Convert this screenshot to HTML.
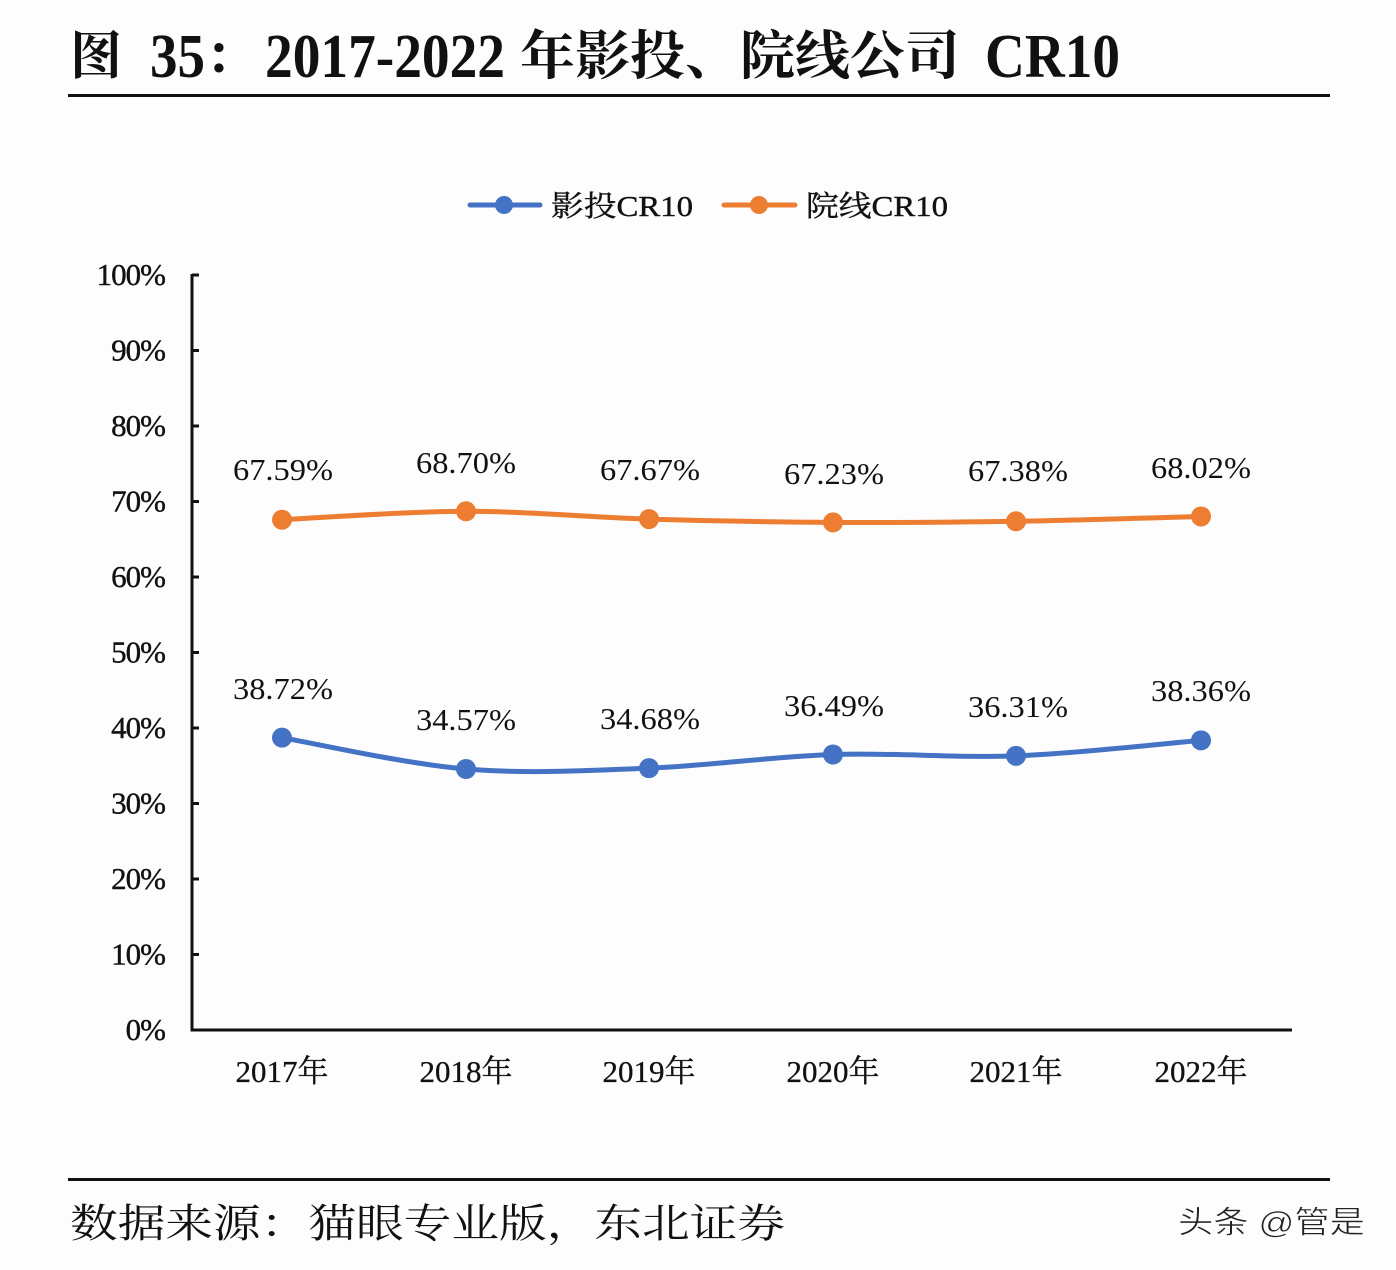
<!DOCTYPE html>
<html><head><meta charset="utf-8"><style>
html,body{margin:0;padding:0;background:#fdfdfe;}
svg{display:block;}
.serif{font-family:"Liberation Serif","Noto Serif CJK SC",serif;}
</style></head><body>
<svg width="1396" height="1270" viewBox="0 0 1396 1270" xmlns="http://www.w3.org/2000/svg">
<rect width="1396" height="1270" fill="#fdfdfe"/>
<!-- Title -->
<g fill="#111" font-weight="bold">
<text x="70" y="74" font-family="'Noto Serif CJK SC',serif" font-size="52">图</text>
<text x="150" y="77" font-family="'Liberation Serif',serif" font-size="62" textLength="55" lengthAdjust="spacingAndGlyphs">35</text>
<text x="205" y="74" font-family="'Noto Serif CJK SC',serif" font-size="52">：</text>
<text x="265" y="77" font-family="'Liberation Serif',serif" font-size="62" textLength="240" lengthAdjust="spacingAndGlyphs">2017-2022</text>
<text x="520" y="74" font-family="'Noto Serif CJK SC',serif" font-size="53" textLength="440" lengthAdjust="spacingAndGlyphs">年影投、院线公司</text>
<text x="985" y="77" font-family="'Liberation Serif',serif" font-size="62" textLength="135" lengthAdjust="spacingAndGlyphs">CR10</text>
</g>
<rect x="68" y="94" width="1262" height="3" fill="#111"/>

<!-- Legend -->
<line x1="470" y1="205" x2="540" y2="205" stroke="#4472c4" stroke-width="5" stroke-linecap="round"/>
<circle cx="504" cy="205" r="9" fill="#4472c4"/>
<text x="551" y="216" class="serif" font-size="29" fill="#111" stroke="#111" stroke-width="0.4" textLength="142" lengthAdjust="spacingAndGlyphs">影投CR10</text>
<line x1="724" y1="205" x2="795" y2="205" stroke="#ed7d31" stroke-width="5" stroke-linecap="round"/>
<circle cx="759" cy="205" r="9" fill="#ed7d31"/>
<text x="806" y="216" class="serif" font-size="29" fill="#111" stroke="#111" stroke-width="0.4" textLength="142" lengthAdjust="spacingAndGlyphs">院线CR10</text>

<!-- Axes -->
<g stroke="#111" stroke-width="3">
<line x1="192" y1="274" x2="192" y2="1031"/>
<line x1="190.5" y1="1030" x2="1292" y2="1030"/>
<line x1="192" y1="275" x2="199" y2="275"/>
<line x1="192" y1="350.5" x2="199" y2="350.5"/>
<line x1="192" y1="426" x2="199" y2="426"/>
<line x1="192" y1="501.5" x2="199" y2="501.5"/>
<line x1="192" y1="577" x2="199" y2="577"/>
<line x1="192" y1="652.5" x2="199" y2="652.5"/>
<line x1="192" y1="728" x2="199" y2="728"/>
<line x1="192" y1="803.5" x2="199" y2="803.5"/>
<line x1="192" y1="879" x2="199" y2="879"/>
<line x1="192" y1="954.5" x2="199" y2="954.5"/>
</g>
<g class="serif" font-size="31" fill="#111" stroke="#111" stroke-width="0.4" text-anchor="end" letter-spacing="-1">
<text x="165" y="285">100%</text>
<text x="165" y="360.5">90%</text>
<text x="165" y="436">80%</text>
<text x="165" y="511.5">70%</text>
<text x="165" y="587">60%</text>
<text x="165" y="662.5">50%</text>
<text x="165" y="738">40%</text>
<text x="165" y="813.5">30%</text>
<text x="165" y="889">20%</text>
<text x="165" y="964.5">10%</text>
<text x="165" y="1040">0%</text>
</g>
<g class="serif" font-size="31" fill="#111" stroke="#111" stroke-width="0.3" text-anchor="middle">
<text x="282" y="1082">2017年</text>
<text x="466" y="1082">2018年</text>
<text x="649" y="1082">2019年</text>
<text x="833" y="1082">2020年</text>
<text x="1016" y="1082">2021年</text>
<text x="1201" y="1082">2022年</text>
</g>

<!-- Series -->
<path d="M282,519.7 C312.7,518.3 404.8,511.4 466,511.31 C527.2,511.2 587.8,517.2 649,519.09 C710.2,520.94 771.8,522.05 833,522.41 C894.2,522.78 954.7,522.27 1016,521.28 C1077.3,520.29 1170.2,517.26 1201,516.45" fill="none" stroke="#ed7d31" stroke-width="5" stroke-linecap="round"/>
<g fill="#ed7d31">
<circle cx="282" cy="519.7" r="10"/><circle cx="466" cy="511.3" r="10"/><circle cx="649" cy="519.1" r="10"/>
<circle cx="833" cy="522.4" r="10"/><circle cx="1016" cy="521.3" r="10"/><circle cx="1201" cy="516.45" r="10"/>
</g>
<path d="M282,737.66 C312.7,742.88 404.8,763.92 466,769 C527.2,774.08 587.8,770.59 649,768.17 C710.2,765.75 771.8,756.55 833,754.5 C894.2,752.45 954.7,758.21 1016,755.86 C1077.3,753.51 1170.2,742.96 1201,740.38" fill="none" stroke="#4472c4" stroke-width="5" stroke-linecap="round"/>
<g fill="#4472c4">
<circle cx="282" cy="737.66" r="10"/><circle cx="466" cy="769" r="10"/><circle cx="649" cy="768.17" r="10"/>
<circle cx="833" cy="754.5" r="10"/><circle cx="1016" cy="755.86" r="10"/><circle cx="1201" cy="740.38" r="10"/>
</g>

<!-- Data labels -->
<g class="serif" font-size="31" fill="#111" text-anchor="middle">
<text x="283" y="480" textLength="100" lengthAdjust="spacingAndGlyphs">67.59%</text>
<text x="466" y="473" textLength="100" lengthAdjust="spacingAndGlyphs">68.70%</text>
<text x="650" y="480" textLength="100" lengthAdjust="spacingAndGlyphs">67.67%</text>
<text x="834" y="484" textLength="100" lengthAdjust="spacingAndGlyphs">67.23%</text>
<text x="1018" y="481" textLength="100" lengthAdjust="spacingAndGlyphs">67.38%</text>
<text x="1201" y="478" textLength="100" lengthAdjust="spacingAndGlyphs">68.02%</text>
<text x="283" y="699" textLength="100" lengthAdjust="spacingAndGlyphs">38.72%</text>
<text x="466" y="730" textLength="100" lengthAdjust="spacingAndGlyphs">34.57%</text>
<text x="650" y="729" textLength="100" lengthAdjust="spacingAndGlyphs">34.68%</text>
<text x="834" y="716" textLength="100" lengthAdjust="spacingAndGlyphs">36.49%</text>
<text x="1018" y="717" textLength="100" lengthAdjust="spacingAndGlyphs">36.31%</text>
<text x="1201" y="701" textLength="100" lengthAdjust="spacingAndGlyphs">38.36%</text>
</g>

<!-- Footer -->
<rect x="68" y="1178" width="1262" height="3" fill="#111"/>
<text x="70" y="1237" font-family="'Noto Serif CJK SC',serif" font-size="40" fill="#111" textLength="715" lengthAdjust="spacingAndGlyphs">数据来源：猫眼专业版，东北证券</text>
<text x="1178" y="1233" font-family="'Liberation Sans','Noto Sans CJK SC',sans-serif" font-size="31" fill="#222" stroke="#fff" stroke-width="0.6" textLength="187" lengthAdjust="spacingAndGlyphs">头条 @管是</text>
</svg>
</body></html>
